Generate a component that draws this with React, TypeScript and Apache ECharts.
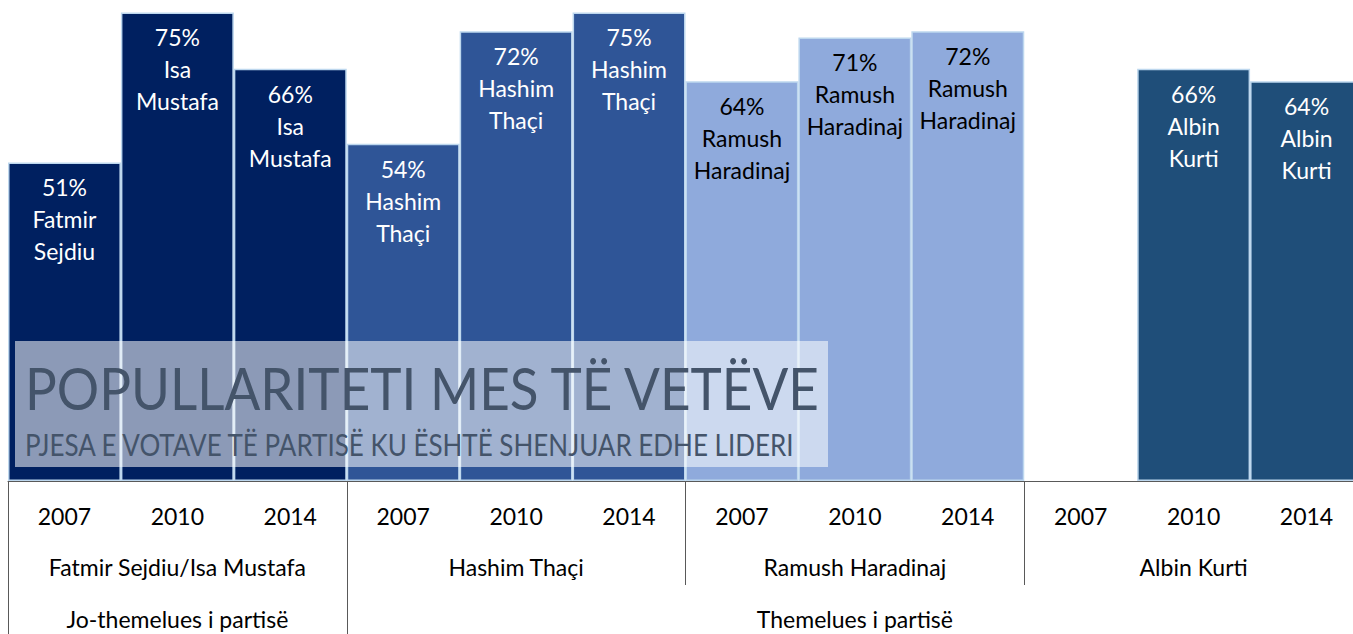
import React, { useEffect, useRef } from 'react';
import * as echarts from 'echarts';

const years = ['2007', '2010', '2014'];
const leaders = ['Fatmir Sejdiu/Isa Mustafa', 'Hashim Thaçi', 'Ramush Haradinaj', 'Albin Kurti'];
const founderGroups = ['Jo-themelues i partisë', 'Themelues i partisë'];
const founderSpans = [3, 9];
const shares: (number | null)[] = [51, 75, 66, 54, 72, 75, 64, 71, 72, null, 66, 64];
const barLeaders = [
  'Fatmir Sejdiu', 'Isa Mustafa', 'Isa Mustafa',
  'Hashim Thaçi', 'Hashim Thaçi', 'Hashim Thaçi',
  'Ramush Haradinaj', 'Ramush Haradinaj', 'Ramush Haradinaj',
  '', 'Albin Kurti', 'Albin Kurti',
];
const groupColors = ['#002060', '#2F5597', '#8FAADC', '#1F4E79'];
const groupLabelColors = ['#FFFFFF', '#FFFFFF', '#000000', '#FFFFFF'];
const titleText = 'POPULLARITETI MES TË VETËVE';
const subtitleText = 'PJESA E VOTAVE TË PARTISË KU ËSHTË SHENJUAR EDHE LIDERI';

const FONT = 'Lato, "Open Sans", sans-serif';

export default function App() {
  const ref = useRef<HTMLDivElement>(null);

  useEffect(() => {
    const chart = echarts.init(ref.current!, null, { renderer: 'svg' });
    const perGroup = years.length;
    const yearCats = leaders.flatMap(() => years);
    const leaderCats = yearCats.map((_, i) => (i % perGroup === Math.floor(perGroup / 2) ? leaders[Math.floor(i / perGroup)] : ''));
    const founderStarts: number[] = [];
    let acc = 0;
    founderSpans.forEach((s) => { founderStarts.push(acc); acc += s; });
    const founderCats = yearCats.map((_, i) => {
      const g = founderStarts.findIndex((st, k) => i === st + Math.floor(founderSpans[k] / 2));
      return g >= 0 ? founderGroups[g] : '';
    });

    const data = shares.map((v, i) => {
      const g = Math.floor(i / perGroup);
      return {
        value: v === null ? '-' : v,
        itemStyle: { color: groupColors[g] },
        label: { color: groupLabelColors[g] },
      };
    });

    const axisText = { color: '#000', fontSize: 23, fontFamily: FONT };
    const lineColor = '#595959';

    chart.setOption({
      animation: false,
      grid: { left: 8, right: 2, top: 0, bottom: 153, containLabel: false },
      xAxis: [
        {
          type: 'category',
          data: yearCats,
          position: 'bottom',
          axisLine: { show: true, lineStyle: { color: lineColor, width: 1 } },
          axisTick: { show: false },
          axisLabel: { ...axisText, interval: 0, margin: 23 },
          splitLine: { show: false },
        },
        {
          type: 'category',
          data: leaderCats,
          position: 'bottom',
          axisLine: { show: false },
          axisTick: { show: true, interval: (i: number) => i % perGroup === 0, length: 104, lineStyle: { color: lineColor, width: 1 } },
          axisLabel: { ...axisText, interval: 0, margin: 74 },
          splitLine: { show: false },
        },
        {
          type: 'category',
          data: founderCats,
          position: 'bottom',
          axisLine: { show: false },
          axisTick: { show: true, interval: (i: number) => founderStarts.includes(i), length: 160, lineStyle: { color: lineColor, width: 1 } },
          axisLabel: { ...axisText, interval: 0, margin: 126 },
          splitLine: { show: false },
        },
      ],
      yAxis: { type: 'value', min: 0, max: 77, show: false, splitLine: { show: false } },
      series: [
        {
          type: 'bar',
          xAxisIndex: 0,
          data,
          barWidth: '100%',
          barCategoryGap: 0,
          itemStyle: { borderColor: '#BDD7EE', borderWidth: 1.5 },
          label: {
            show: true,
            position: 'insideTop',
            distance: 9,
            fontSize: 23,
            lineHeight: 32,
            fontFamily: FONT,
            align: 'center',
            formatter: (p: any) => `${p.value}%\n${barLeaders[p.dataIndex].split(' ').join('\n')}`,
          },
        },
      ],
      graphic: [
        {
          type: 'rect',
          z: 100,
          shape: { x: 15, y: 341, width: 813, height: 126 },
          style: { fill: 'rgba(255,255,255,0.55)' },
        },
        {
          type: 'text',
          z: 101,
          x: 25,
          y: 388,
          scaleY: 1.1,
          style: { text: titleText, fill: '#44546A', fontSize: 53, fontWeight: 400, fontFamily: FONT, verticalAlign: 'middle' },
        },
        {
          type: 'text',
          z: 101,
          x: 25,
          y: 444,
          scaleY: 1.15,
          style: { text: subtitleText, fill: '#44546A', fontSize: 26, fontFamily: FONT, verticalAlign: 'middle' },
        },
      ],
    });
    return () => chart.dispose();
  }, []);

  return (
    <div style={{ position: 'fixed', left: 0, top: 0, width: 1353, height: 634, overflow: 'hidden', background: '#fff' }}>
      <div ref={ref} style={{ width: 1365, height: 634 }} />
    </div>
  );
}
